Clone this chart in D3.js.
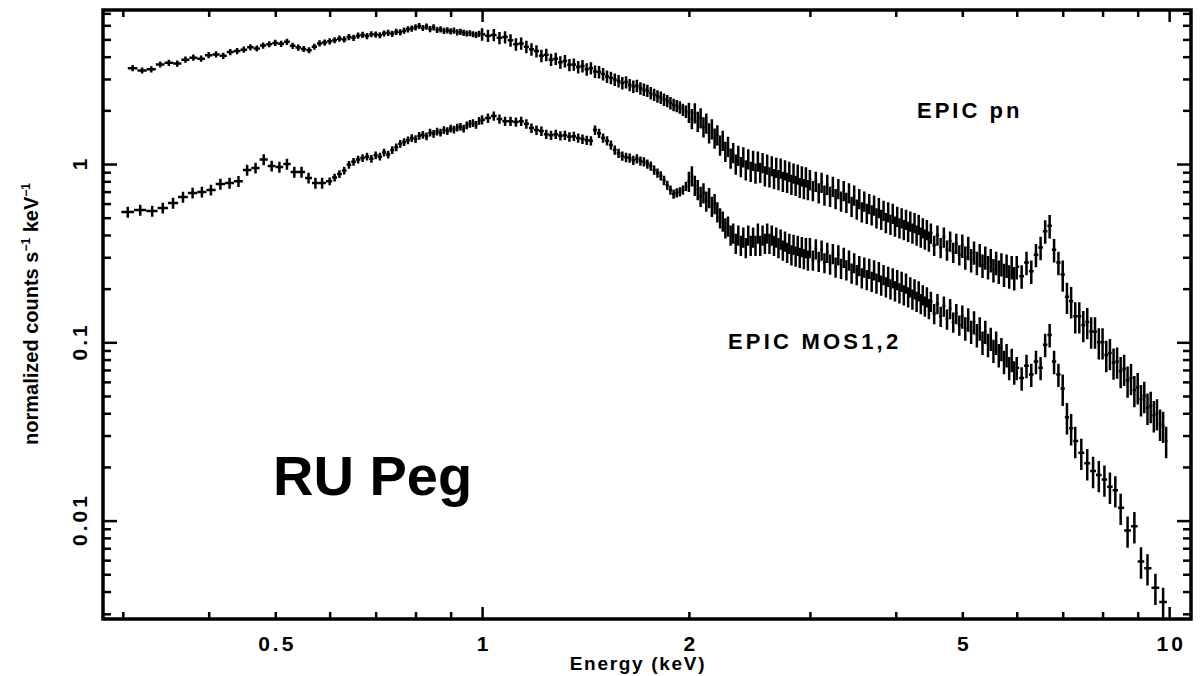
<!DOCTYPE html>
<html>
<head>
<meta charset="utf-8">
<script src="https://cdn.jsdelivr.net/npm/d3@7"></script>
<style>
  body { margin: 0; background: #fff; }
  svg { display: block; }
  .txt { font-family: "Liberation Sans", Arial, sans-serif; font-weight: bold; fill: #000; }
</style>
</head>
<body>
<svg id="chart" width="1201" height="676"></svg>
<script>
// ---- data (energy in keV, normalized counts s^-1 keV^-1) ----

// pn, soft end
var pnSoftEnergy = [0.31,0.32,0.33,0.34,0.35,0.36,0.37,0.38,0.39,0.40,
  0.41,0.42,0.43,0.44,0.45,0.46,0.47,0.48,0.49,0.50,
  0.51,0.52,0.53,0.54,0.55,0.56,0.57,0.58,0.59];
var pnSoftCounts = [3.45,3.35,3.40,3.62,3.70,3.66,3.85,3.95,3.90,4.08,
  4.12,4.05,4.25,4.30,4.38,4.52,4.45,4.62,4.70,4.78,
  4.72,4.85,4.60,4.50,4.42,4.35,4.55,4.75,4.80];

// MOS, soft end (wider bins)
var mosSoftEnergy = [0.305,0.318,0.331,0.343,0.355,0.367,0.379,0.391,0.403,0.416,
  0.429,0.442,0.455,0.468,0.481,0.494,0.507,0.520,0.533,0.546,
  0.559,0.572,0.585];
var mosSoftCounts = [0.538,0.552,0.545,0.567,0.604,0.653,0.688,0.697,0.715,0.772,
  0.782,0.80,0.925,0.95,1.06,0.975,0.962,1.00,0.902,0.902,
  0.835,0.782,0.782];

// shared grid 0.6 - 6.9 keV
var energy = [
  0.60,0.61,0.62,0.63,0.64,0.65,0.66,0.67,0.68,0.69,
  0.70,0.71,0.72,0.73,0.74,0.75,0.76,0.77,0.78,0.79,
  0.80,0.81,0.82,0.83,0.84,0.85,0.86,0.87,0.88,0.89,
  0.90,0.91,0.92,0.93,0.94,0.95,0.96,0.97,0.98,0.99,
  1.00,1.02,1.04,1.06,1.08,1.10,1.12,1.14,1.16,1.18,
  1.20,1.22,1.24,1.26,1.28,1.30,1.32,1.34,1.36,1.38,
  1.40,1.42,1.44,1.46,1.48,1.50,1.52,1.54,1.56,1.58,
  1.60,1.62,1.64,1.66,1.68,1.70,1.72,1.74,1.76,1.78,
  1.80,1.82,1.84,1.86,1.88,1.90,1.92,1.94,1.96,1.98,
  2.00,2.02,2.04,2.06,2.08,2.10,2.12,2.14,2.16,2.18,
  2.20,2.22,2.24,2.26,2.28,2.30,2.32,2.34,2.36,2.38,
  2.40,2.42,2.44,2.46,2.48,2.50,2.52,2.54,2.56,2.58,
  2.60,2.62,2.64,2.66,2.68,2.70,2.72,2.74,2.76,2.78,
  2.80,2.82,2.84,2.86,2.88,2.90,2.92,2.94,2.96,2.98,
  3.00,3.03,3.06,3.09,3.12,3.15,3.18,3.21,3.24,3.27,
  3.30,3.33,3.36,3.39,3.42,3.45,3.48,3.51,3.54,3.57,
  3.60,3.63,3.66,3.69,3.72,3.75,3.78,3.81,3.84,3.87,
  3.90,3.93,3.96,3.99,4.02,4.05,4.08,4.11,4.14,4.17,
  4.20,4.23,4.26,4.29,4.32,4.35,4.38,4.41,4.44,4.47,
  4.50,4.55,4.60,4.65,4.70,4.75,4.80,4.85,4.90,4.95,
  5.00,5.05,5.10,5.15,5.20,5.25,5.30,5.35,5.40,5.45,
  5.50,5.55,5.60,5.65,5.70,5.75,5.80,5.85,5.90,5.95,
  6.0,6.1,6.2,6.3,6.4,6.5,6.6,6.7,6.8,6.9];

var pnCounts = [
  4.88,4.95,5.05,5.00,5.15,5.10,5.25,5.30,5.22,5.35,
  5.32,5.28,5.40,5.45,5.38,5.52,5.48,5.60,5.70,5.75,
  5.85,5.95,5.80,5.90,5.72,5.85,5.65,5.70,5.58,5.62,
  5.55,5.60,5.48,5.52,5.45,5.40,5.42,5.35,5.30,5.38,
  5.35,5.25,5.30,5.10,5.15,4.95,4.70,4.75,4.55,4.40,
  4.30,4.05,4.10,3.85,3.90,3.72,3.78,3.60,3.62,3.50,
  3.55,3.40,3.45,3.30,3.28,3.20,3.10,3.05,2.98,2.92,
  2.85,2.88,2.78,2.72,2.75,2.66,2.62,2.58,2.50,2.45,
  2.40,2.36,2.30,2.26,2.20,2.15,2.12,2.08,2.02,1.97,
  1.95,1.80,1.94,1.74,1.82,1.62,1.70,1.50,1.58,1.40,
  1.46,1.28,1.36,1.18,1.26,1.08,1.16,1.00,1.12,0.97,
  1.10,0.93,1.07,0.91,1.05,0.89,1.04,0.90,1.02,0.86,
  1.00,0.85,0.98,0.83,0.96,0.82,0.95,0.80,0.93,0.79,
  0.91,0.77,0.89,0.76,0.88,0.74,0.86,0.73,0.85,0.72,
  0.82,0.71,0.80,0.69,0.79,0.67,0.77,0.66,0.75,0.64,
  0.73,0.62,0.71,0.61,0.69,0.58,0.67,0.56,0.64,0.54,
  0.62,0.53,0.60,0.52,0.59,0.50,0.57,0.49,0.55,0.47,
  0.54,0.46,0.53,0.45,0.51,0.44,0.50,0.43,0.49,0.42,
  0.48,0.41,0.47,0.40,0.46,0.39,0.44,0.38,0.43,0.37,
  0.41,0.35,0.40,0.34,0.39,0.33,0.37,0.32,0.36,0.31,
  0.35,0.30,0.34,0.29,0.32,0.28,0.31,0.27,0.30,0.265,
  0.29,0.255,0.28,0.25,0.275,0.24,0.27,0.235,0.265,0.23,
  0.265,0.235,0.28,0.25,0.31,0.34,0.42,0.45,0.33,0.28];

var mosCounts = [
  0.80,0.84,0.88,0.92,0.99,1.03,1.06,1.08,1.10,1.07,
  1.12,1.10,1.16,1.13,1.20,1.24,1.30,1.33,1.36,1.40,
  1.38,1.44,1.46,1.43,1.50,1.48,1.52,1.50,1.55,1.53,
  1.58,1.56,1.60,1.62,1.58,1.65,1.68,1.70,1.66,1.75,
  1.77,1.81,1.86,1.79,1.74,1.74,1.72,1.74,1.68,1.59,
  1.55,1.53,1.47,1.45,1.47,1.44,1.45,1.42,1.43,1.40,
  1.38,1.36,1.35,1.55,1.49,1.40,1.35,1.28,1.20,1.15,
  1.11,1.09,1.08,1.05,1.07,1.04,1.03,1.00,0.975,0.925,
  0.89,0.86,0.81,0.76,0.715,0.68,0.69,0.70,0.715,0.75,
  0.80,0.86,0.76,0.72,0.66,0.69,0.62,0.65,0.58,0.60,
  0.54,0.50,0.48,0.44,0.45,0.40,0.41,0.36,0.40,0.35,
  0.39,0.34,0.40,0.35,0.39,0.35,0.41,0.35,0.40,0.36,
  0.41,0.36,0.40,0.35,0.39,0.34,0.38,0.33,0.37,0.32,
  0.36,0.31,0.355,0.305,0.35,0.30,0.345,0.295,0.34,0.29,
  0.34,0.29,0.335,0.285,0.33,0.28,0.32,0.275,0.315,0.265,
  0.31,0.26,0.30,0.255,0.29,0.245,0.28,0.24,0.27,0.23,
  0.265,0.225,0.26,0.22,0.255,0.215,0.25,0.21,0.24,0.205,
  0.235,0.20,0.23,0.195,0.225,0.19,0.22,0.185,0.215,0.18,
  0.205,0.175,0.20,0.17,0.195,0.165,0.185,0.16,0.18,0.155,
  0.17,0.145,0.165,0.14,0.16,0.135,0.155,0.13,0.145,0.125,
  0.14,0.12,0.135,0.115,0.13,0.11,0.12,0.10,0.115,0.097,
  0.105,0.09,0.10,0.085,0.092,0.078,0.085,0.072,0.08,0.068,
  0.072,0.063,0.074,0.066,0.078,0.072,0.097,0.11,0.078,0.066];

// hard end
var pnHardEnergy = [7.0,7.1,7.2,7.3,7.4,7.5,7.6,7.7,7.8,7.9,
  8.0,8.1,8.2,8.3,8.4,8.5,8.6,8.7,8.8,8.9,
  9.0,9.1,9.2,9.3,9.4,9.5,9.6,9.7,9.8,9.9];
var pnHardCounts = [0.24,0.18,0.17,0.14,0.14,0.125,0.13,0.115,0.115,0.10,
  0.10,0.085,0.087,0.077,0.078,0.069,0.071,0.061,0.063,0.054,
  0.056,0.048,0.05,0.043,0.044,0.039,0.04,0.035,0.034,0.028];

var mosHardEnergy = [7.0,7.1,7.2,7.3,7.45,7.6,7.75,7.9,8.05,8.2,
  8.35,8.5,8.7,8.9,9.1,9.3,9.55,9.8];
var mosHardCounts = [0.055,0.038,0.033,0.028,0.024,0.021,0.019,0.018,0.017,0.0155,
  0.0148,0.0118,0.0088,0.0093,0.0059,0.0054,0.0042,0.0035];

// relative 1-sigma errors by energy band (band starts at the given energy)
var pnErrEdges = [0.3, 1.0, 2.0, 5.0, 7.0];
var pnErrRel   = [0.04, 0.08, 0.13, 0.15, 0.2];
var mosErrEdges = [0.3, 0.6, 1.0, 2.0, 5.0, 7.0];
var mosErrRel   = [0.07, 0.05, 0.06, 0.13, 0.15, 0.2];

// axes
var xTickLabels = [0.5, 1, 2, 5, 10];
var xMajorTicks = [1, 10];
var xMinorTicks = [0.3,0.4,0.5,0.6,0.7,0.8,0.9,2,3,4,5,6,7,8,9];
var yTickLabels = [0.01, 0.1, 1];
var yMajorTicks = [0.01, 0.1, 1];
var yMinorTicks = [0.003,0.004,0.005,0.006,0.007,0.008,0.009,
  0.02,0.03,0.04,0.05,0.06,0.07,0.08,0.09,
  0.2,0.3,0.4,0.5,0.6,0.7,0.8,0.9,
  2,3,4,5,6,7];

// ---- chart ----
var svg = d3.select("#chart");
var margin = {top: 10, right: 10, bottom: 57, left: 103};
var width = 1201 - margin.left - margin.right;
var height = 676 - margin.top - margin.bottom;
var g = svg.append("g").attr("transform", "translate(" + margin.left + "," + margin.top + ")");

var x = d3.scaleLog().domain([0.2807, 10.76]).range([0, width]);
var y = d3.scaleLog().domain([0.002806, 7.31]).range([height, 0]);

function errFor(e, edges, rel) {
  var r = rel[0];
  for (var i = 0; i < edges.length; i++) if (e >= edges[i]) r = rel[i];
  return r;
}

function buildSeries(E, V, edges, rel) {
  var n = E.length;
  return E.map(function(e, i) {
    var lo = i > 0 ? (E[i - 1] + e) / 2 : e - (E[1] - E[0]) / 2;
    var hi = i < n - 1 ? (e + E[i + 1]) / 2 : e + (E[n - 1] - E[n - 2]) / 2;
    var r = errFor(e, edges, rel);
    return {e: e, v: V[i], lo: lo, hi: hi, vlo: V[i] * (1 - r), vhi: V[i] * (1 + r)};
  });
}

var pn = buildSeries(pnSoftEnergy.concat(energy, pnHardEnergy),
                     pnSoftCounts.concat(pnCounts, pnHardCounts), pnErrEdges, pnErrRel);
var mos = buildSeries(mosSoftEnergy.concat(energy, mosHardEnergy),
                      mosSoftCounts.concat(mosCounts, mosHardCounts), mosErrEdges, mosErrRel);

function crossPath(d) {
  return "M" + x(d.lo) + "," + y(d.v) + "H" + x(d.hi) +
         "M" + x(d.e) + "," + y(d.vlo) + "V" + y(d.vhi);
}

[["pn", pn], ["mos", mos]].forEach(function(s) {
  g.append("g").attr("class", s[0])
    .selectAll("path")
    .data(s[1])
    .enter().append("path")
      .attr("d", crossPath)
      .attr("fill", "none")
      .attr("stroke", "#000")
      .attr("stroke-width", 2.5);
});

// tick marks on all four sides, pointing inward
function ticks(axisFn, vals, len, tr) {
  var a = g.append("g").attr("class", "ticks")
    .attr("transform", tr)
    .call(axisFn.tickValues(vals).tickSize(-len).tickFormat(""));
  a.select(".domain").remove();
  a.selectAll("line").attr("stroke", "#000").attr("stroke-width", 2.5);
}
ticks(d3.axisBottom(x), xMinorTicks, 7, "translate(0," + height + ")");
ticks(d3.axisBottom(x), xMajorTicks, 12, "translate(0," + height + ")");
ticks(d3.axisTop(x), xMinorTicks, 7, "translate(0,0)");
ticks(d3.axisTop(x), xMajorTicks, 12, "translate(0,0)");
ticks(d3.axisLeft(y), yMinorTicks, 8, "translate(0,0)");
ticks(d3.axisLeft(y), yMajorTicks, 14, "translate(0,0)");
ticks(d3.axisRight(y), yMinorTicks, 8, "translate(" + width + ",0)");
ticks(d3.axisRight(y), yMajorTicks, 14, "translate(" + width + ",0)");

// frame
g.append("rect")
  .attr("width", width).attr("height", height)
  .attr("fill", "none").attr("stroke", "#000").attr("stroke-width", 3.5);

// tick labels
var xl = g.append("g")
  .attr("transform", "translate(0," + height + ")")
  .call(d3.axisBottom(x).tickValues(xTickLabels).tickSize(0).tickFormat(function(d) { return String(d); }));
xl.select(".domain").remove();
xl.selectAll("text")
  .attr("class", "txt")
  .attr("y", 32).attr("dy", null)
  .attr("dx", 1.5)
  .style("font-size", "21px")
  .style("letter-spacing", "3px");

var yl = g.append("g")
  .call(d3.axisLeft(y).tickValues(yTickLabels).tickSize(0).tickFormat(function(d) { return String(d); }));
yl.select(".domain").remove();
yl.selectAll("text")
  .attr("class", "txt")
  .attr("x", null).attr("dy", null)
  .attr("dx", 1.5)
  .attr("text-anchor", "middle")
  .attr("transform", "translate(-16,0) rotate(-90)")
  .style("font-size", "21px")
  .style("letter-spacing", "3px");

// axis titles
g.append("text")
  .attr("class", "txt")
  .attr("x", 535).attr("y", height + 51)
  .attr("text-anchor", "middle")
  .style("font-size", "19px")
  .style("letter-spacing", "1.7px")
  .text("Energy (keV)");

var yt = svg.append("text")
  .attr("class", "txt")
  .attr("transform", "translate(38,314) rotate(-90)")
  .attr("text-anchor", "middle")
  .style("font-size", "20px");
yt.append("tspan").text("normalized counts s");
yt.append("tspan").attr("dy", -8).style("font-size", "12px").text("\u22121");
yt.append("tspan").attr("dy", 8).text(" keV");
yt.append("tspan").attr("dy", -8).style("font-size", "12px").text("\u22121");

// annotations
svg.append("text").attr("class", "txt")
  .attr("x", 917).attr("y", 118)
  .style("font-size", "22px").style("letter-spacing", "3px")
  .text("EPIC pn");
svg.append("text").attr("class", "txt")
  .attr("x", 728).attr("y", 349)
  .style("font-size", "22px").style("letter-spacing", "3.2px")
  .text("EPIC MOS1,2");
svg.append("text")
  .attr("class", "txt")
  .attr("x", 273).attr("y", 495)
  .style("font-size", "56px")
  .text("RU Peg");
</script>
</body>
</html>
